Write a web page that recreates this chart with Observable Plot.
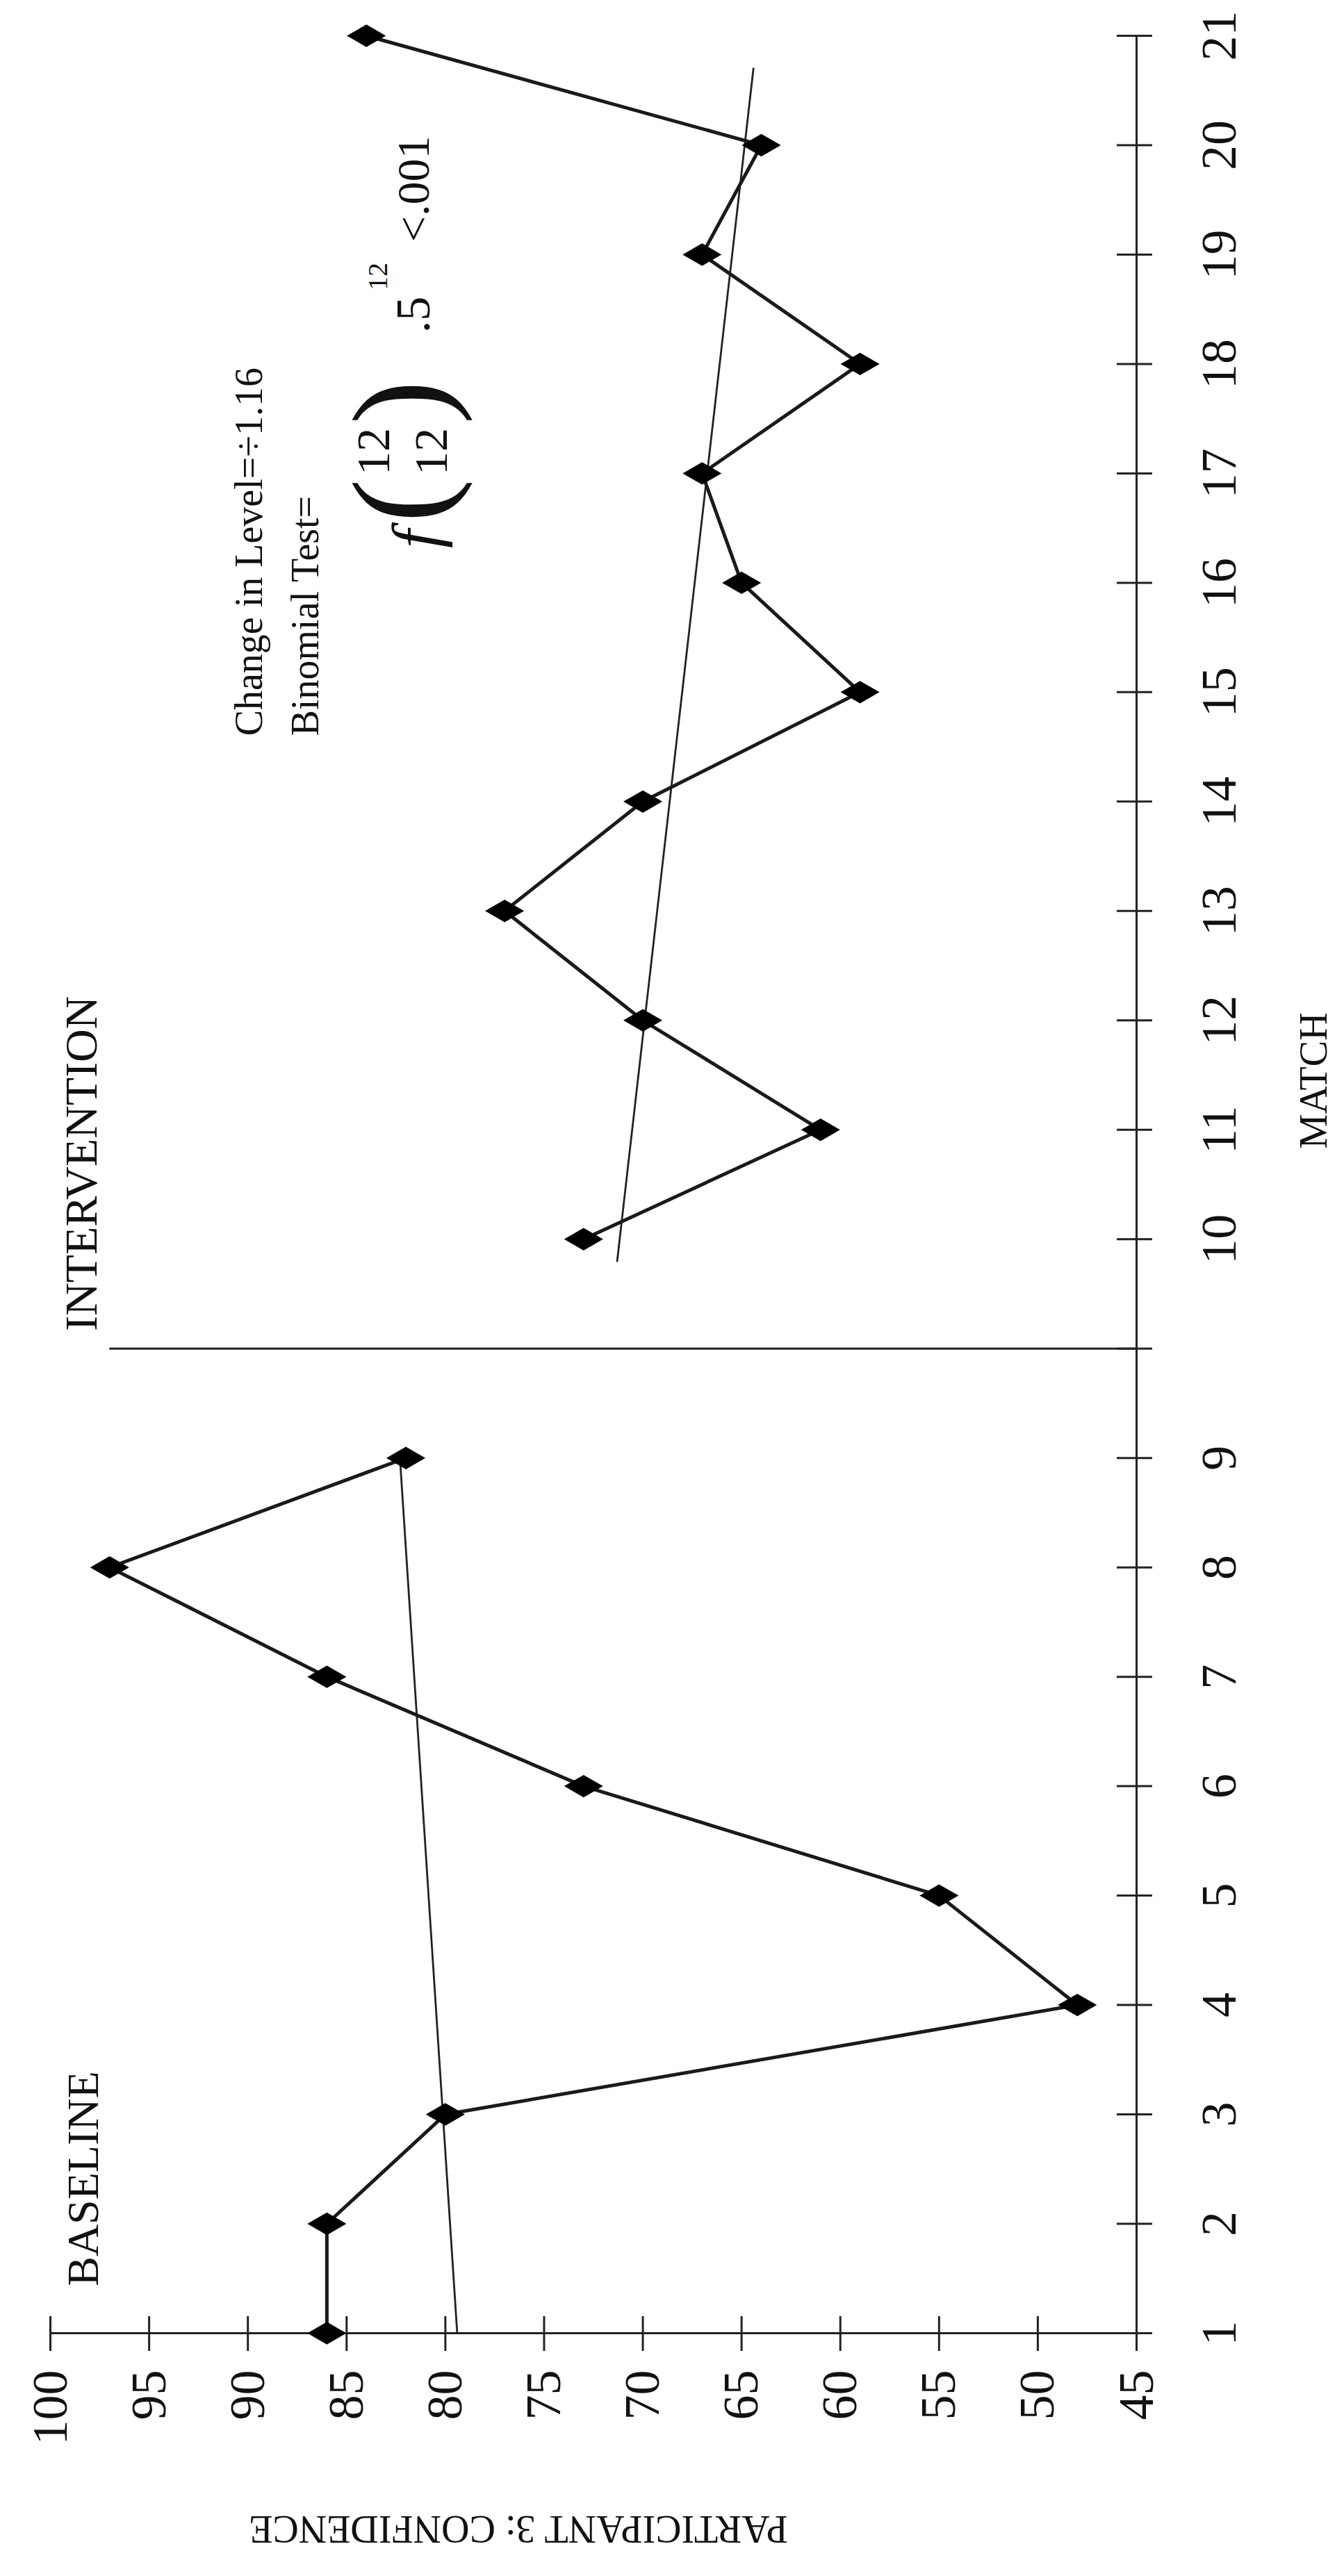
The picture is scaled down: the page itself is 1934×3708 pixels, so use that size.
<!DOCTYPE html>
<html>
<head>
<meta charset="utf-8">
<script src="https://cdn.jsdelivr.net/npm/d3@7"></script>
<script src="https://cdn.jsdelivr.net/npm/@observablehq/plot@0.6"></script>
<style>
  html, body { margin: 0; padding: 0; background: #fff; width: 1934px; height: 3708px; overflow: hidden; }
  #wrap { position: absolute; left: 0; top: 0; width: 3708px; height: 1934px;
          transform-origin: 0 0; transform: translate(0px, 3708px) rotate(-90deg); }
</style>
</head>
<body>
<div id="wrap"></div>
<script>
// ---- data ----
const baselineMatch = [1, 2, 3, 4, 5, 6, 7, 8, 9];
const baselineValue = [86, 86, 80, 48, 55, 73, 86, 97, 82];
const interventionMatch = [10, 11, 12, 13, 14, 15, 16, 17, 18, 19, 20, 21];
const interventionValue = [73, 61, 70, 77, 70, 59, 65, 67, 59, 67, 64, 84];
const baselineTrendMatch = [1, 9];
const baselineTrendValue = [79.4, 82.3];
const interventionTrendMatch = [9.9, 20.7];
const interventionTrendValue = [71.3, 64.4];
const phaseChange = 9.5;
const phaseTop = 97;
const matchTicks = d3.range(1, 22);
const valueTicks = [45, 50, 55, 60, 65, 70, 75, 80, 85, 90, 95, 100];

const baseline = baselineMatch.map((m, i) => ({match: m, value: baselineValue[i]}));
const intervention = interventionMatch.map((m, i) => ({match: m, value: interventionValue[i]}));
const baselineTrend = baselineTrendMatch.map((m, i) => ({match: m, value: baselineTrendValue[i]}));
const interventionTrend = interventionTrendMatch.map((m, i) => ({match: m, value: interventionTrendValue[i]}));

// ---- layout (drawn in landscape, then the page rotates it) ----
const W = 3708, H = 1934;
const mL = 349, mR = 52, mT = 72, mB = 299;
const left = mL, right = W - mR;
const pw = right - left, ph = H - mT - mB;
const slot = pw / 21; // one empty slot for the phase change
const font = "'Liberation Serif', 'Times New Roman', serif";
const fs = 72;

const chart = Plot.plot({
  width: W,
  height: H,
  marginLeft: mL,
  marginRight: mR,
  marginTop: mT,
  marginBottom: mB,
  style: {fontFamily: font, background: "white", overflow: "visible", maxWidth: "none", color: "#111"},
  x: {type: "linear", domain: [1, 9, 10, 21], range: [left, left + 8 * slot, left + 10 * slot, right]},
  y: {domain: [45, 100]},
  marks: [
    // axis lines
    Plot.ruleY([45], {stroke: "#222", strokeWidth: 3}),
    Plot.ruleX([1], {stroke: "#222", strokeWidth: 3}),
    // ticks crossing the axes
    Plot.tickX([...matchTicks, phaseChange], {x: d => d, insetTop: ph - 28, insetBottom: -23, stroke: "#222", strokeWidth: 3}),
    Plot.tickY(valueTicks, {y: d => d, insetLeft: -25, insetRight: pw - 25, stroke: "#222", strokeWidth: 3}),
    // tick labels
    Plot.axisX({ticks: matchTicks, tickSize: 0, tickPadding: 91, fontSize: fs, label: null}),
    Plot.axisY({ticks: valueTicks, tickSize: 0, tickPadding: 53, fontSize: fs, label: null}),
    // axis titles
    Plot.text(["MATCH"], {x: 11.45, frameAnchor: "bottom", dy: 256, fontSize: 56, textAnchor: "middle", lineAnchor: "middle"}),
    Plot.text(["PARTICIPANT 3: CONFIDENCE"], {y: 76.3, frameAnchor: "left", dx: -281, rotate: -90, fontSize: 56, textAnchor: "middle", lineAnchor: "middle"}),
    // phase change line
    Plot.ruleX([phaseChange], {y1: 45, y2: phaseTop, stroke: "#222", strokeWidth: 3}),
    // trend lines
    Plot.line(baselineTrend, {x: "match", y: "value", stroke: "#222", strokeWidth: 2.8}),
    Plot.line(interventionTrend, {x: "match", y: "value", stroke: "#222", strokeWidth: 2.8}),
    // data
    Plot.line(baseline, {x: "match", y: "value", stroke: "#1a1a1a", strokeWidth: 5}),
    Plot.line(intervention, {x: "match", y: "value", stroke: "#1a1a1a", strokeWidth: 5}),
    Plot.dot(baseline, {x: "match", y: "value", symbol: "diamond", r: 17, fill: "black", stroke: "none"}),
    Plot.dot(intervention, {x: "match", y: "value", symbol: "diamond", r: 17, fill: "black", stroke: "none"}),
    // phase labels
    Plot.text(["BASELINE"], {x: 1.43, y: 98.3, textAnchor: "start", lineAnchor: "middle", fontSize: 64}),
    Plot.text(["INTERVENTION"], {x: 9.58, y: 98.4, textAnchor: "start", lineAnchor: "middle", fontSize: 66}),
    // annotations
    Plot.text(["Change in Level=\u00f71.16"], {x: 14.6, y: 89.9, textAnchor: "start", lineAnchor: "middle", fontSize: 56}),
    Plot.text(["Binomial Test="], {x: 14.6, y: 87.05, textAnchor: "start", lineAnchor: "middle", fontSize: 56}),
    Plot.text(["f"], {x: 16.4, y: 81.4, textAnchor: "middle", lineAnchor: "middle", fontSize: 95, fontStyle: "italic"}),
    Plot.text(["("], {x: 16.75, y: 82.2, textAnchor: "middle", lineAnchor: "middle", fontSize: 190, fontWeight: 100}),
    Plot.text(["12"], {x: 17.2, y: 83.6, textAnchor: "middle", lineAnchor: "middle", fontSize: 68}),
    Plot.text(["12"], {x: 17.2, y: 80.7, textAnchor: "middle", lineAnchor: "middle", fontSize: 68}),
    Plot.text([")"], {x: 17.65, y: 82.2, textAnchor: "middle", lineAnchor: "middle", fontSize: 190, fontWeight: 100}),
    Plot.text([".5"], {x: 18.45, y: 81.6, textAnchor: "middle", lineAnchor: "middle", fontSize: 70}),
    Plot.text(["12"], {x: 18.8, y: 83.4, textAnchor: "middle", lineAnchor: "middle", fontSize: 40}),
    Plot.text(["<.001"], {x: 19.6, y: 81.6, textAnchor: "middle", lineAnchor: "middle", fontSize: 66})
  ]
});
document.getElementById("wrap").appendChild(chart);
</script>
</body>
</html>
